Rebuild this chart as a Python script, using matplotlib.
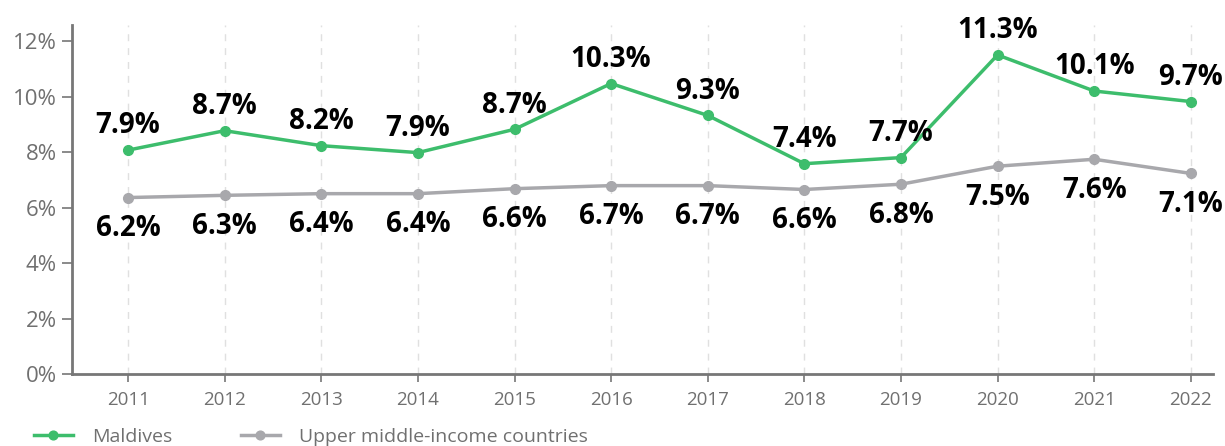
import numpy as np
import matplotlib.pyplot as plt

#### Data ####
years = [2011, 2012, 2013, 2014, 2015, 2016, 2017, 2018, 2019, 2020, 2021, 2022]
maldives = [8.07, 8.77, 8.23, 7.98, 8.82, 10.47, 9.32, 7.58, 7.80, 11.50, 10.20, 9.82]
maldives_labels = ['7.9%', '8.7%', '8.2%', '7.9%', '8.7%', '10.3%', '9.3%', '7.4%',
                   '7.7%', '11.3%', '10.1%', '9.7%']
umic = [6.36, 6.44, 6.50, 6.50, 6.68, 6.79, 6.79, 6.65, 6.84, 7.49, 7.74, 7.23]
umic_labels = ['6.2%', '6.3%', '6.4%', '6.4%', '6.6%', '6.7%', '6.7%', '6.6%',
               '6.8%', '7.5%', '7.6%', '7.1%']
y_ticks = [0, 2, 4, 6, 8, 10, 12]

#### Style ####
GREEN = '#3dbd6c'
GREY = '#a8a8ac'
AXIS = '#777777'
TEXT = '#707070'

plt.rcParams['font.family'] = ['Open Sans', 'DejaVu Sans']

fig = plt.figure(figsize=(12.25, 4.46), dpi=100)
ax = fig.add_axes([0.0588, 0.1614, 0.9314, 0.7826])

# dashed vertical guide at every year
for yr in years:
    ax.axvline(yr, color='#e0e0e0', lw=1, ls=(0, (5, 5)), zorder=0)

ax.plot(years, maldives, color=GREEN, lw=2.5, marker='o', ms=7, label='Maldives', zorder=3)
ax.plot(years, umic, color=GREY, lw=2.5, marker='o', ms=7,
        label='Upper middle-income countries', zorder=2)

# value labels: above for Maldives, below for the income group
for x, y, s in zip(years, maldives, maldives_labels):
    ax.annotate(s, (x, y), xytext=(0, 7), textcoords='offset points',
                ha='center', va='bottom', fontsize=20, fontweight='bold', color='black')
for x, y, s in zip(years, umic, umic_labels):
    ax.annotate(s, (x, y), xytext=(0, -12), textcoords='offset points',
                ha='center', va='top', fontsize=20, fontweight='bold', color='black')

ax.set_xlim(2010.42, 2022.23)
ax.set_ylim(0, 12.58)
ax.set_xticks(years)
ax.set_xticklabels([str(y) for y in years])
ax.set_yticks(y_ticks)
ax.set_yticklabels([f'{t}%' for t in y_ticks])

for side in ['top', 'right']:
    ax.spines[side].set_visible(False)
for side in ['left', 'bottom']:
    ax.spines[side].set_color(AXIS)
    ax.spines[side].set_linewidth(2)

ax.tick_params(axis='y', colors=AXIS, labelcolor=TEXT, labelsize=16, length=7, width=1.2, pad=4)
ax.tick_params(axis='x', colors=AXIS, labelcolor=TEXT, labelsize=13.5, length=6, width=1.2, pad=6)

fig.legend(loc='center left', bbox_to_anchor=(0.0278, 0.021), ncol=2, frameon=False,
           fontsize=14, labelcolor=TEXT, handlelength=2.0, handletextpad=1.0,
           columnspacing=3.5, borderpad=0, borderaxespad=0, markerscale=0.9)

fig.savefig('out.png', dpi=100)
